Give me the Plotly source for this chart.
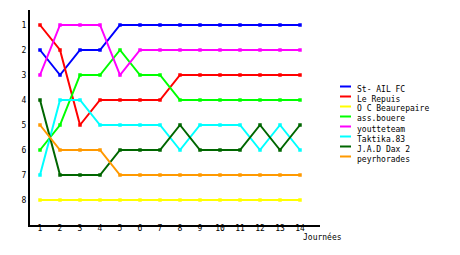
import plotly.graph_objects as go

journees = list(range(1, 15))
teams = ["St- AIL FC", "Le Repuis", "O C Beaurepaire", "ass.bouere",
         "youtteteam", "Taktika.83", "J.A.D Dax 2", "peyrhorades"]
colors = ["#0000ff", "#ff0000", "#ffff00", "#00ff00",
          "#ff00ff", "#00ffff", "#006600", "#ff9900"]

st_ail = [2, 3, 2, 2, 1, 1, 1, 1, 1, 1, 1, 1, 1, 1]
le_repuis = [1, 2, 5, 4, 4, 4, 4, 3, 3, 3, 3, 3, 3, 3]
oc_beaurepaire = [8, 8, 8, 8, 8, 8, 8, 8, 8, 8, 8, 8, 8, 8]
ass_bouere = [6, 5, 3, 3, 2, 3, 3, 4, 4, 4, 4, 4, 4, 4]
youtteteam = [3, 1, 1, 1, 3, 2, 2, 2, 2, 2, 2, 2, 2, 2]
taktika = [7, 4, 4, 5, 5, 5, 5, 6, 5, 5, 5, 6, 5, 6]
jad_dax = [4, 7, 7, 7, 6, 6, 6, 5, 6, 6, 6, 5, 6, 5]
peyrhorades = [5, 6, 6, 6, 7, 7, 7, 7, 7, 7, 7, 7, 7, 7]

series = [st_ail, le_repuis, oc_beaurepaire, ass_bouere,
          youtteteam, taktika, jad_dax, peyrhorades]

FONT = "DejaVu Sans Mono"

fig = go.Figure()
for name, col, vals in zip(teams, colors, series):
    fig.add_trace(go.Scatter(
        x=journees, y=vals, name=name, mode="lines+markers",
        line=dict(color=col, width=2),
        marker=dict(symbol="square", size=3.5, color=col),
        showlegend=False,
    ))

W, H = 460, 255
L, R, T, B = 30, 140, 10, 30
pw, ph = W - L - R, H - T - B

# custom legend (compact spacing like the original)
for i, (name, col) in enumerate(zip(teams, colors)):
    ypx = 89 + 10 * i
    yp = (H - B - ypx) / ph
    fig.add_shape(type="line", xref="paper", yref="paper",
                  x0=(340 - L) / pw, x1=(351 - L) / pw, y0=yp + 2.5 / ph, y1=yp + 2.5 / ph,
                  line=dict(color=col, width=2))
    fig.add_annotation(text=name, xref="paper", yref="paper",
                       x=(355 - L) / pw, y=yp, xanchor="left", yanchor="middle",
                       showarrow=False, font=dict(family=FONT, size=8, color="black"))

fig.add_annotation(text="Journées", xref="paper", yref="paper",
                   x=(322 - L) / pw, y=(H - B - 237) / ph, xanchor="center", yanchor="middle",
                   showarrow=False, font=dict(family=FONT, size=8, color="black"))

fig.update_layout(
    width=W, height=H,
    margin=dict(l=L, r=R, t=T, b=B),
    paper_bgcolor="white", plot_bgcolor="white",
    font=dict(family=FONT, size=8, color="black"),
    xaxis=dict(range=[0.5, 15], tickvals=journees, showgrid=False, zeroline=False,
               showline=True, linecolor="black", linewidth=2, ticks="", ticklen=0,
               ticklabelstandoff=-6),
    yaxis=dict(range=[9, 0.4], tickvals=list(range(1, 9)), showgrid=False, zeroline=False,
               showline=True, linecolor="black", linewidth=2, ticks="", ticklen=0),
)

fig.write_html("out.html")
